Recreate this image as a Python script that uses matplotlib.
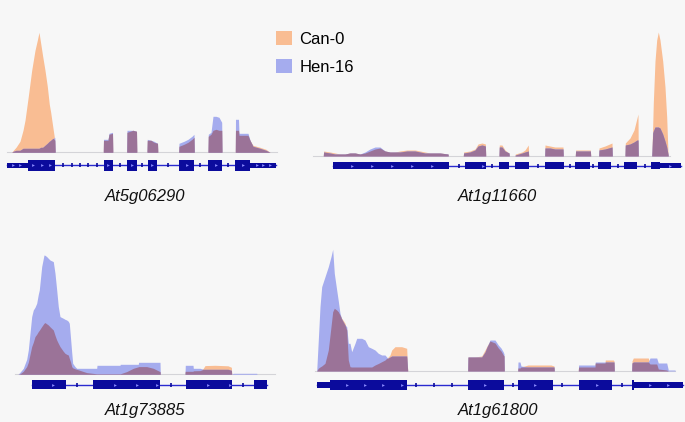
import numpy as np
import matplotlib
matplotlib.use("Agg")
import matplotlib.pyplot as plt
from matplotlib.patches import Patch

# ---- coverage tracks (position along locus, read depth) ----
g1_name = "At5g06290"
g1_pos = [11.7, 13.3, 16, 20, 23, 25, 28.3, 31.7, 35, 37.3, 39, 40.7, 42.7, 45, 47.3, 49.3, 50.7, 51.7, 53.3, 54.8, 55.2,
          103.3, 103.5, 108, 109, 112.5, 112.8,
          126.7, 127, 130, 133, 136.5, 136.8,
          147, 147.3, 151, 154, 157.5, 157.8,
          178.7, 179, 184, 188, 192, 194, 194.3,
          208, 208.3, 211, 213, 216, 219, 221.7, 222,
          235.3, 235.5, 238.5, 239, 248, 250, 253, 260, 266, 270]
g1_can = [0, 2, 5, 11, 22, 32, 56, 82, 102, 112, 120, 109, 96, 82, 66, 48, 40, 33, 22, 12, 0,
          0, 12, 12, 18, 19, 0,
          0, 20, 21, 22, 21, 0,
          0, 12, 12, 10, 9, 0,
          0, 6, 8, 10, 13, 15, 0,
          0, 16, 18, 22, 23, 22, 22, 0,
          0, 22, 22, 17, 17, 12, 7, 5, 3, 0]
g1_hen = [0, 1, 2, 2, 4, 4, 4, 4, 4, 4, 4, 5, 5, 7, 9, 11, 12, 13, 14, 15, 0,
          0, 13, 13, 19, 20, 0,
          0, 22, 22, 22, 21, 0,
          0, 13, 12, 11, 9, 0,
          0, 9, 11, 13, 16, 18, 0,
          0, 18, 20, 36, 36, 35, 30, 0,
          0, 33, 33, 19, 19, 12, 6, 4, 2, 0]
g1_exons = [(28, 55), (104, 113), (127, 137), (148, 157), (179, 194), (208, 222), (235, 250)]
g1_utrs = [(7.3, 28), (250, 276)]
g1_ticks = [63.3, 71.7, 80, 88.3, 96.7, 120, 141.7, 168.3, 200, 228.3]
g1_chev = [13.3, 20, 33.3, 41.7, 50, 108.3, 131.7, 152.3, 186.7, 216, 243.3, 256.7, 263.3, 270]

g2_name = "At1g11660"
g2_pos = [23.3, 23.6, 30, 35, 40, 45, 50, 55, 60, 65, 70, 75, 80, 85, 90, 95, 100, 107, 115, 120, 125, 130, 140, 148, 148.3,
          163.3, 163.6, 170, 175, 178, 182, 185.4, 185.7,
          199, 199.3, 202, 205, 209, 209.3,
          215, 215.3, 222, 225, 228.3, 228.7,
          244.7, 245, 250, 255, 263, 263.3,
          275.3, 275.6, 283, 290.4, 290.7,
          298.7, 299, 305, 312, 312.3,
          325, 325.3, 330, 334, 337, 338, 338.3,
          351.7, 352, 352.7, 353.3, 355, 356.7, 358.3, 360, 362.7, 365, 366.7, 368, 368.3]
g2_can = [0, 5, 4, 3, 2, 2, 3, 3, 2, 3, 5, 7, 8, 5, 4, 4, 5, 6, 6, 5, 4, 3, 3, 2, 0,
          0, 4, 5, 7, 12, 13, 12, 0,
          0, 11, 11, 6, 3, 0,
          0, 2, 4, 6, 11, 0,
          0, 11, 10, 9, 9, 0,
          0, 6, 6, 6, 0,
          0, 8, 10, 13, 0,
          0, 13, 18, 26, 38, 42, 0,
          0, 6, 30, 53, 95, 116, 124, 116, 95, 69, 39, 3, 0]
g2_hen = [0, 4, 3, 2, 2, 2, 3, 3, 2, 4, 7, 9, 9, 5, 4, 4, 4, 5, 5, 4, 3, 3, 3, 2, 0,
          0, 3, 4, 6, 10, 11, 10, 0,
          0, 9, 9, 5, 3, 0,
          0, 1, 3, 4, 5, 0,
          0, 8, 8, 7, 7, 0,
          0, 5, 5, 5, 0,
          0, 6, 7, 9, 0,
          0, 11, 12, 14, 16, 16, 0,
          0, 5, 23, 25, 29, 29, 29, 28, 22, 15, 9, 2, 0]
g2_exons = [(33.3, 149.3), (165, 185.7), (199.3, 209.3), (215, 228.7), (245, 264),
            (275.3, 290.3), (298.3, 311), (324.3, 337.3), (350.7, 360)]
g2_utrs = [(360, 381)]
g2_ticks = [159.3, 192.3, 238.3, 270, 293.3, 318.3, 345]
g2_chev = [51.7, 71.7, 91.7, 111.7, 131.7, 183.3, 370]

g3_name = "At1g73885"
g3_pos = [18, 20, 23.3, 26.7, 28.3, 31.7, 33.3, 35, 36.7, 38.3, 39.3, 41.7, 44, 45, 46.7, 48.3, 50, 53.3, 55, 56.7,
          58.3, 60, 63.3, 65, 66.7, 68.3, 69.3, 70.7, 71.7, 72.7, 75, 76.7, 86.7, 96.7, 97, 120, 120.3, 126.7, 133.3, 138.3,
          138.6, 146.7, 153.3, 160, 160.3,
          185, 185.3, 193, 193.3, 200, 203.3, 205, 215, 228, 231.4, 231.7, 233.3, 256.7, 257]
g3_can = [0, 0.5, 3, 7.7, 12, 27.7, 32, 37.7, 40, 42.7, 44, 47.7, 51, 51.7, 50.5, 49.3, 47.5, 44.3, 39, 34.3,
          31, 27.7, 23, 21, 20, 19.3, 16, 12, 7.7, 6.5, 5.5, 5, 1.7, 0.5, 0.5, 0.5, 0.5, 2.7, 6, 7.5,
          7.7, 7.7, 6, 2.7, 0,
          0, 3, 3, 3.5, 3.7, 6, 8.7, 9, 8.5, 7, 0, 0, 0, 0]
g3_hen = [0, 2, 6, 15, 24.3, 57.7, 64.3, 67, 71, 80, 84.3, 107.7, 119.3, 119, 117.7, 116, 114.3, 112.7, 101, 84.3,
          67.7, 57.7, 56, 55, 54.3, 53, 51, 34.3, 22, 11, 7.7, 6, 6, 6, 9, 9, 10, 10, 10, 10,
          12, 12, 12, 12, 0,
          0, 9, 9, 6, 6, 5, 5, 5, 5, 4, 0, 1, 1, 0]
g3_exons = [(32.3, 66), (93.3, 160), (186, 232), (254, 266.7)]
g3_utrs = []
g3_ticks = [77.3, 170.7, 242.7]
g3_chev = [53.3, 115, 136.7, 157, 208.3, 230]

g4_name = "At1g61800"
g4_pos = [21.7, 23.3, 25, 26.7, 30, 33.3, 36, 37.7, 39.3, 41.7, 43.3, 45, 46.7, 48.3, 50, 51.7, 53.3, 55, 56.7, 60,
          61.7, 66.7, 70, 73.3, 76.7, 80, 83.3, 86.7, 90, 91.7, 92.7, 95, 96.7, 100, 106.7, 111.7, 112.7,
          172.7, 173, 180, 186.7, 190, 192, 195, 200, 203.3, 206, 208.3, 209, 209.3,
          222.7, 223, 225, 226, 233, 240, 250, 256, 259, 259.3,
          283.3, 283.6, 300, 300.3, 310, 310.3, 318.3, 319, 319.3,
          336.7, 337, 338.3, 353.3, 355, 361.7, 363.3, 371.7, 373.3, 380, 380.3]
g4_can = [0, 2.7, 4, 5, 7.7, 21, 44.3, 59.3, 62.7, 61, 59.3, 56, 52.7, 50.5, 47.7, 41, 11, 4.3, 4, 4,
          4, 4, 4, 4, 4, 6, 7.5, 9.3, 11, 12.7, 13.5, 16, 21, 24.3, 24.3, 22.7, 0,
          0, 14, 14, 15, 21, 25, 30, 28, 23, 20, 16, 15, 0,
          0, 3, 3, 4, 6, 6, 6, 6, 5, 0,
          0, 4, 4, 8, 8, 11, 11, 10, 0,
          0, 10, 13, 13, 7, 7, 2, 1, 0, 0, 0]
g4_hen = [0, 31, 64.3, 84.3, 94.3, 104.3, 114.3, 121.7, 97.7, 81, 70, 57.7, 52, 49, 46, 44.3, 27.7, 27.7, 19.3, 27.7,
          32.7, 32.7, 31, 24.3, 22.7, 21, 17.7, 16, 16, 14, 12.7, 14, 15, 15, 15, 15, 0,
          0, 14, 14, 14, 19, 24, 31, 31, 26, 23, 19, 17, 0,
          0, 9, 9, 5, 4, 4, 4, 4, 4, 0,
          0, 6, 6, 9, 9, 9, 9, 9, 0,
          0, 8, 9, 9, 13, 13, 8, 8, 1, 1, 0]
g4_exons = [(35, 112.3), (173.3, 209.3), (223.3, 258.3), (284.3, 317.3), (336.7, 338.7)]
g4_utrs = [(21.7, 35), (338.7, 388.3)]
g4_ticks = [120.7, 139.3, 157.3, 218.3, 266.7, 326.7]
g4_chev = [51.7, 70, 88.3, 106.7, 190, 240, 301.7, 355, 373.3]

labels = ["Can-0", "Hen-16"]

# ---- style ----
CAN = "#f9bd93"
HEN = "#a5acee"
BOTH = "#9b7398"
GENE = "#0b0b9c"
BG = "#f7f7f7"

W, H = 685, 422
fig = plt.figure(figsize=(W / 100, H / 100), dpi=100, facecolor=BG)

# panel boxes in pixels: left, top, width, bottom, baseline, exon band (top, bottom), utr band
panels = [
    dict(box=(0, 25, 280, 180), base=152.3, exon=(7.7, 18.4), utr=(10.4, 16.0), line=(6.7, 276.7), lab=(145, 196)),
    dict(box=(300, 25, 385, 180), base=156.0, exon=(5.7, 13.3), utr=(7.3, 11.7), line=(13.3, 370), lab=(497, 197)),
    dict(box=(0, 245, 290, 400), base=374.3, exon=(5.7, 15.0), utr=(7.5, 13.2), line=(15, 275), lab=(145, 411)),
    dict(box=(295, 240, 390, 400), base=371.0, exon=(9.0, 19.0), utr=(10.7, 17.3), line=(20, 380), lab=(498, 411)),
]
genes = [
    (g1_name, g1_pos, g1_can, g1_hen, g1_exons, g1_utrs, g1_ticks, g1_chev),
    (g2_name, g2_pos, g2_can, g2_hen, g2_exons, g2_utrs, g2_ticks, g2_chev),
    (g3_name, g3_pos, g3_can, g3_hen, g3_exons, g3_utrs, g3_ticks, g3_chev),
    (g4_name, g4_pos, g4_can, g4_hen, g4_exons, g4_utrs, g4_ticks, g4_chev),
]

for p, (name, pos, can, hen, exons, utrs, ticks, chev) in zip(panels, genes):
    x0, top, w, bot = p["box"]
    ax = fig.add_axes([x0 / W, (H - bot) / H, w / W, (bot - top) / H])
    ax.set_xlim(0, w)
    ax.set_ylim(-(bot - p["base"]), p["base"] - top)
    ax.axis("off")

    pos = np.array(pos, dtype=float)
    can = np.array(can, dtype=float)
    hen = np.array(hen, dtype=float)

    # baseline
    ax.plot(p["line"], [0, 0], color="#d4d4d8", lw=0.8, zorder=1)
    # coverage: Can-0, Hen-16, and their overlap
    ax.fill_between(pos, 0, can, color=CAN, lw=0, zorder=2)
    ax.fill_between(pos, 0, hen, color=HEN, lw=0, zorder=3)
    ax.fill_between(pos, 0, np.minimum(can, hen), color=BOTH, lw=0, zorder=4)

    # gene model
    e_top, e_bot = p["exon"]
    u_top, u_bot = p["utr"]
    mid = -(e_top + e_bot) / 2
    starts = [s for s, _ in exons + utrs]
    ends = [e for _, e in exons + utrs]
    ax.plot([min(starts), max(ends)], [mid, mid], color="#2a2ad0", lw=1.0, zorder=5)
    ax.broken_barh([(s, e - s) for s, e in exons], (-e_bot, e_bot - e_top), facecolor=GENE, lw=0, zorder=6)
    ax.broken_barh([(s, e - s) for s, e in utrs], (-u_bot, u_bot - u_top), facecolor=GENE, lw=0, zorder=6)
    ax.plot(ticks, [mid] * len(ticks), ls="", marker="|", ms=3.0, mew=1.2, color=GENE, zorder=6)
    ax.plot(chev, [mid] * len(chev), ls="", marker=">", ms=2.0, mew=0, color="#8a8aff", zorder=7)

    fig.text(p["lab"][0] / W, (H - p["lab"][1]) / H, name, ha="center", va="center",
             fontsize=12, style="italic", family="Liberation Sans", color="#111111")

handles = [Patch(facecolor=CAN, edgecolor="none"), Patch(facecolor=HEN, edgecolor="none")]
fig.legend(handles, labels, loc="upper left", bbox_to_anchor=(276 / W, (H - 31) / H),
           frameon=False, prop={"family": "Liberation Sans", "size": 12},
           handlelength=0.95, handleheight=0.9, handletextpad=0.45, labelspacing=0.75,
           borderpad=0, borderaxespad=0)

fig.savefig("out.png", dpi=100, facecolor=BG)
